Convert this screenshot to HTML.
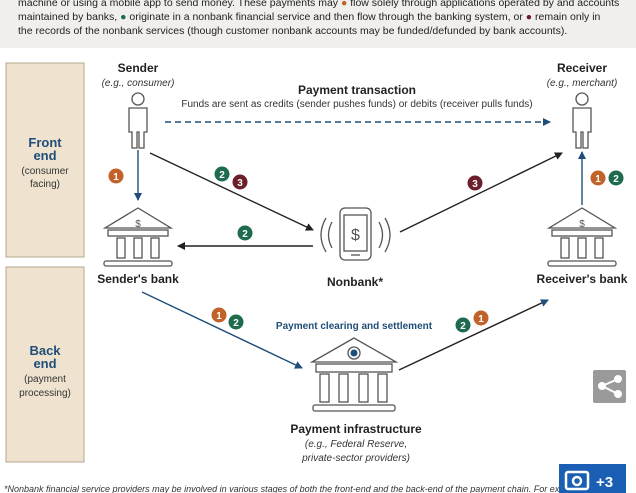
<!DOCTYPE html>
<html><head><meta charset="utf-8"><style>
body{margin:0;width:636px;height:493px;overflow:hidden;background:#fff;font-family:"Liberation Sans",sans-serif}
svg{display:block}
</style></head><body>
<svg width="636" height="493" viewBox="0 0 636 493" xmlns="http://www.w3.org/2000/svg" font-family="Liberation Sans, sans-serif">
<defs>
<marker id="ab" markerWidth="8" markerHeight="8" refX="7" refY="4" orient="auto" markerUnits="userSpaceOnUse"><path d="M0,0 L8,4 L0,8 Z" fill="#222"/></marker>
<marker id="au" markerWidth="8" markerHeight="8" refX="7" refY="4" orient="auto" markerUnits="userSpaceOnUse"><path d="M0,0 L8,4 L0,8 Z" fill="#1f4e79"/></marker>
<g id="bank" fill="#fff" stroke="#555" stroke-width="1.3">
<path d="M0,-28 L-33,-8 L33,-8 Z"/>
<rect x="-30" y="-6" width="60" height="6"/>
<rect x="-21" y="2" width="8" height="20"/><rect x="-4" y="2" width="8" height="20"/><rect x="13" y="2" width="8" height="20"/>
<rect x="-34" y="25" width="68" height="5" rx="2"/>
</g>
<g id="person" fill="#fff" stroke="#555" stroke-width="1.3">
<circle cx="0" cy="7" r="6"/>
<path d="M-9,16 h18 v24 h-3 v16 h-5 v-16 h-2 v16 h-5 v-16 h-3 z"/>
</g>
</defs>
<rect x="0" y="0" width="636" height="48" fill="#f0efed"/>
<g font-size="10.5" fill="#222">
<text x="18" y="6">machine or using a mobile app to send money. These payments may <tspan fill="#c0622a">●</tspan> flow solely through applications operated by and accounts</text>
<text x="18" y="20">maintained by banks, <tspan fill="#1e6b4e">●</tspan> originate in a nonbank financial service and then flow through the banking system, or <tspan fill="#6b1f2b">●</tspan> remain only in</text>
<text x="18" y="34">the records of the nonbank services (though customer nonbank accounts may be funded/defunded by bank accounts).</text>
</g>
<rect x="6" y="63" width="78" height="194" fill="#efe3cf" stroke="#b5a88f"/>
<rect x="6" y="267" width="78" height="195" fill="#efe3cf" stroke="#b5a88f"/>
<g text-anchor="middle">
<text x="45" y="147" font-size="13" font-weight="bold" fill="#1f4e79">Front</text>
<text x="45" y="160" font-size="13" font-weight="bold" fill="#1f4e79">end</text>
<text x="45" y="174" font-size="10" fill="#333">(consumer</text>
<text x="45" y="187" font-size="10" fill="#333">facing)</text>
<text x="45" y="355" font-size="13" font-weight="bold" fill="#1f4e79">Back</text>
<text x="45" y="368" font-size="13" font-weight="bold" fill="#1f4e79">end</text>
<text x="45" y="382" font-size="10" fill="#333">(payment</text>
<text x="45" y="396" font-size="10" fill="#333">processing)</text>

<text x="138" y="72" font-size="12" font-weight="bold" fill="#222">Sender</text>
<text x="138" y="86" font-size="10" font-style="italic" fill="#333">(e.g., consumer)</text>
<text x="582" y="72" font-size="12" font-weight="bold" fill="#222">Receiver</text>
<text x="582" y="86" font-size="10" font-style="italic" fill="#333">(e.g., merchant)</text>
<text x="357" y="94" font-size="12" font-weight="bold" fill="#222">Payment transaction</text>
<text x="357" y="107" font-size="10" fill="#333">Funds are sent as credits (sender pushes funds) or debits (receiver pulls funds)</text>
<text x="138" y="283" font-size="12" font-weight="bold" fill="#222">Sender's bank</text>
<text x="582" y="283" font-size="12" font-weight="bold" fill="#222">Receiver's bank</text>
<text x="355" y="286" font-size="12" font-weight="bold" fill="#222">Nonbank*</text>
<text x="354" y="329" font-size="10" font-weight="bold" fill="#1f4e79">Payment clearing and settlement</text>
<text x="356" y="433" font-size="12" font-weight="bold" fill="#222">Payment infrastructure</text>
<text x="356" y="447" font-size="10" font-style="italic" fill="#333">(e.g., Federal Reserve,</text>
<text x="356" y="461" font-size="10" font-style="italic" fill="#333">private-sector providers)</text>
</g>
<text x="4" y="492" font-size="9" font-style="italic" fill="#333">*Nonbank financial service providers may be involved in various stages of both the front-end and the back-end of the payment chain. For example</text>

<use href="#person" x="138" y="92"/>
<use href="#person" x="582" y="92"/>
<use href="#bank" x="138" y="236"/>
<use href="#bank" x="582" y="236"/>
<text x="138" y="227" font-size="10" text-anchor="middle" fill="#555">$</text>
<text x="582" y="227" font-size="10" text-anchor="middle" fill="#555">$</text>
<!-- infrastructure -->
<g fill="#fff" stroke="#555" stroke-width="1.3">
<path d="M354,338 L312,362 L396,362 Z"/>
<rect x="316" y="364" width="76" height="8"/>
<rect x="320" y="374" width="9" height="28"/><rect x="339" y="374" width="9" height="28"/><rect x="359" y="374" width="9" height="28"/><rect x="378" y="374" width="9" height="28"/>
<rect x="313" y="405" width="82" height="6" rx="2"/>
<circle cx="354" cy="353" r="6"/>
</g>
<circle cx="354" cy="353" r="3.5" fill="#1f4e79"/>
<!-- phone -->
<g fill="none" stroke="#555" stroke-width="1.3">
<rect x="340" y="208" width="31" height="52" rx="5"/>
<rect x="344" y="215" width="23" height="36"/>
<line x1="351" y1="255" x2="360" y2="255"/>
<path d="M332,222 q-7,13 0,26"/><path d="M326,218 q-10,17 0,34"/>
<path d="M379,222 q7,13 0,26"/><path d="M385,218 q10,17 0,34"/>
</g>
<text x="355.5" y="240" font-size="16" text-anchor="middle" fill="#555">$</text>

<g stroke-width="1.4" fill="none">
<line x1="165" y1="122" x2="550" y2="122" stroke="#1f4e79" stroke-dasharray="6,4" marker-end="url(#au)"/>
<line x1="138" y1="150" x2="138" y2="200" stroke="#1f4e79" marker-end="url(#au)"/>
<line x1="582" y1="205" x2="582" y2="152" stroke="#1f4e79" marker-end="url(#au)"/>
<line x1="150" y1="153" x2="313" y2="230" stroke="#222" marker-end="url(#ab)"/>
<line x1="313" y1="246" x2="178" y2="246" stroke="#222" marker-end="url(#ab)"/>
<line x1="400" y1="232" x2="562" y2="153" stroke="#222" marker-end="url(#ab)"/>
<line x1="142" y1="292" x2="302" y2="368" stroke="#1f4e79" marker-end="url(#au)"/>
<line x1="399" y1="370" x2="548" y2="300" stroke="#222" marker-end="url(#au)"/>
</g>
<g font-size="10" font-weight="bold" fill="#fff" text-anchor="middle">
<circle cx="116" cy="176" r="7.5" fill="#c0622a"/><text x="116" y="180">1</text>
<circle cx="222" cy="174" r="7.5" fill="#1e6b4e"/><text x="222" y="178">2</text>
<circle cx="240" cy="182" r="7.5" fill="#6b1f2b"/><text x="240" y="186">3</text>
<circle cx="245" cy="233" r="7.5" fill="#1e6b4e"/><text x="245" y="237">2</text>
<circle cx="475" cy="183" r="7.5" fill="#6b1f2b"/><text x="475" y="187">3</text>
<circle cx="598" cy="178" r="7.5" fill="#c0622a"/><text x="598" y="182">1</text>
<circle cx="616" cy="178" r="7.5" fill="#1e6b4e"/><text x="616" y="182">2</text>
<circle cx="219" cy="315" r="7.5" fill="#c0622a"/><text x="219" y="319">1</text>
<circle cx="236" cy="322" r="7.5" fill="#1e6b4e"/><text x="236" y="326">2</text>
<circle cx="481" cy="318" r="7.5" fill="#c0622a"/><text x="481" y="322">1</text>
<circle cx="463" cy="325" r="7.5" fill="#1e6b4e"/><text x="463" y="329">2</text>
</g>
<!-- share -->
<rect x="593" y="370" width="33" height="33" rx="2" fill="#9a9a9a"/>
<g fill="#fff" stroke="#fff" stroke-width="2"><circle cx="618" cy="379" r="3"/><circle cx="602" cy="386" r="3"/><circle cx="618" cy="394" r="3"/><line x1="618" y1="379" x2="602" y2="386"/><line x1="602" y1="386" x2="618" y2="394"/></g>
<!-- camera -->
<rect x="559" y="464" width="67" height="29" fill="#1a5fb4"/>
<rect x="566" y="472" width="22" height="17" rx="2" fill="none" stroke="#fff" stroke-width="2.5"/>
<circle cx="577" cy="481" r="4" fill="none" stroke="#fff" stroke-width="2.5"/>
<text x="596" y="487" font-size="15" font-weight="bold" fill="#fff">+3</text>
</svg>
</body></html>
